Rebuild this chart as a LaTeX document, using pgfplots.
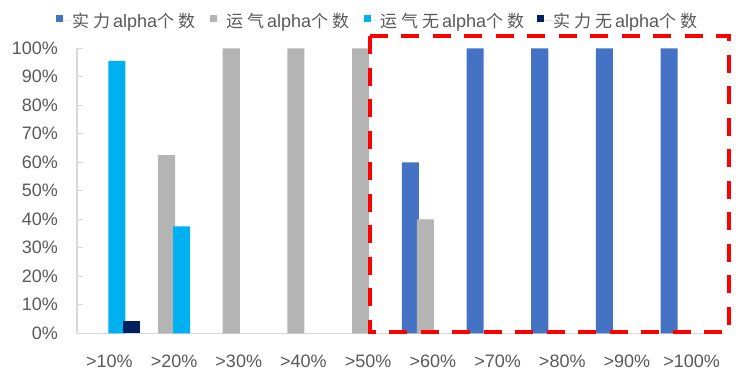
\documentclass[border=0pt]{standalone}
\usepackage{fontspec}
\setmainfont{Liberation Sans}
\newfontfamily\cjk{Noto Sans CJK SC}
\usepackage{pgfplots}
\pgfplotsset{compat=1.18}
\definecolor{cA}{HTML}{4472C4}
\definecolor{cB}{HTML}{B4B4B4}
\definecolor{cC}{HTML}{00B0F0}
\definecolor{cD}{HTML}{002060}
\definecolor{txt}{HTML}{595959}
\definecolor{axl}{HTML}{D9D9D9}
\newcommand\cg{\hspace{4pt}}
\newcommand\al{{\rmfamily\fontsize{18}{20}\selectfont alpha}}
\newcommand\cf{\cjk\fontsize{17}{19}\selectfont}
\begin{document}
\begin{tikzpicture}
\useasboundingbox (-77pt,-41.7pt) rectangle (667pt,333.3pt);
\begin{axis}[
  at={(0,0)}, anchor=south west,
  scale only axis, width=647pt, height=285pt,
  xmin=-0.5, xmax=9.5, ymin=0, ymax=100,
  clip=false,
  axis x line*=bottom, axis y line*=left,
  axis line style={axl, line width=1.3pt},
  xtick={0,...,9},
  xticklabels={>10\%,>20\%,>30\%,>40\%,>50\%,>60\%,>70\%,>80\%,>90\%,>100\%},
  x tick style={draw=none},
  ytick={0,10,...,100},
  yticklabel={\pgfmathprintnumber{\tick}\%},
  /pgf/number format/assume math mode=true,
  y tick style={axl, line width=1.3pt},
  tick align=inside, major tick length=6pt,
  tick label style={font=\fontsize{18}{20}\selectfont, text=txt},
  yticklabel style={anchor=east, inner sep=0pt, xshift=-19pt},
  xticklabel style={anchor=north, inner sep=0pt, yshift=-15pt},
  ybar, bar width=0.263,
  legend columns=4,
  legend style={at={(axis description cs:-0.0325,1.0958)}, anchor=west,
    draw=none, fill=none, inner sep=0pt, column sep=0pt,
    font=\fontsize{15}{17}\selectfont, text=txt,
    nodes={inner sep=0pt, text=txt}},
  legend image code/.code={\fill[#1] (0pt,-1pt) rectangle (7pt,6pt); \path (0pt,0pt) -- (16pt,0pt);},
]
\addplot[fill=cA, draw=none, bar shift=-0.348] coordinates {(5,60) (6,100) (7,100) (8,100) (9,100)};
\addlegendentry{\makebox[138pt][l]{\cf 实\cg 力\hspace{3pt}\al 个\cg 数}}
\addplot[fill=cB, draw=none, bar shift=-0.116] coordinates {(1,62.5) (2,100) (3,100) (4,100) (5,40)};
\addlegendentry{\makebox[138pt][l]{\cf 运\cg 气\hspace{3pt}\al 个\cg 数}}
\addplot[fill=cC, draw=none, bar shift=0.116] coordinates {(0,95.6) (1,37.5)};
\addlegendentry{\makebox[157pt][l]{\cf 运\cg 气\cg 无\hspace{3pt}\al 个\cg 数}}
\addplot[fill=cD, draw=none, bar shift=0.348] coordinates {(0,4.4)};
\addlegendentry{\makebox[148pt][l]{\cf 实\cg 力\cg 无\hspace{3pt}\al 个\cg 数}}
\draw[red, line width=4pt, dash pattern=on 18pt off 13.5pt] (axis cs:4.026,104.3) rectangle (axis cs:9.575,0.56);
\end{axis}
\end{tikzpicture}
\end{document}
